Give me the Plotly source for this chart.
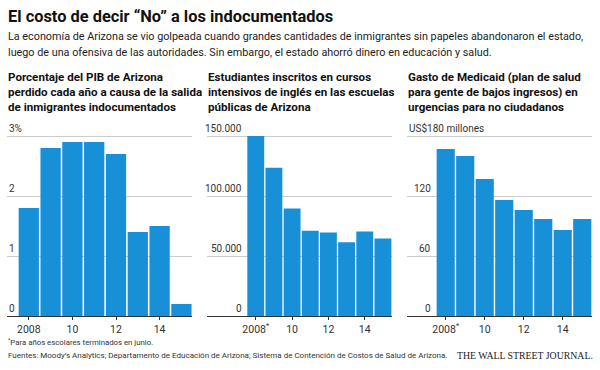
import plotly.graph_objects as go

years = [2008, 2009, 2010, 2011, 2012, 2013, 2014, 2015]
gdp_lost_pct = [1.8, 2.8, 2.9, 2.9, 2.7, 1.4, 1.5, 0.2]
english_students = [150000, 123500, 89500, 71000, 69500, 61500, 70500, 64500]
medicaid_spend = [167, 160, 137, 116, 106, 97, 86, 97]

x_tickvals = [2008, 2010, 2012, 2014]
x_ticktext_1 = ["2008", "10", "12", "14"]
x_ticktext_23 = ["2008<sup>*</sup>", "10", "12", "14"]

y_tickvals_1 = [0, 1, 2, 3]
y_ticktext_1 = ["0", "1", "2", "3%"]
y_tickvals_2 = [0, 50000, 100000, 150000]
y_ticktext_2 = ["0", "50.000", "100.000", "150.000"]
y_tickvals_3 = [0, 60, 120, 180]
y_ticktext_3 = ["0", "60", "120", "US$180 millones"]

title = "El costo de decir “No” a los indocumentados"
subtitle = [
    "La economía de Arizona se vio golpeada cuando grandes cantidades de inmigrantes sin papeles abandonaron el estado,",
    "luego de una ofensiva de las autoridades. Sin embargo, el estado ahorró dinero en educación y salud.",
]
headers = [
    ["Porcentaje del PIB de Arizona", "perdido cada año a causa de la salida", "de inmigrantes indocumentados"],
    ["Estudiantes inscritos en cursos", "intensivos de inglés en las escuelas", "públicas de Arizona"],
    ["Gasto de Medicaid (plan de salud", "para gente de bajos ingresos) en", "urgencias para no ciudadanos"],
]
footnote = "<sup>*</sup>Para años escolares terminados en junio."
sources = "Fuentes: Moody’s Analytics; Departamento de Educación de Arizona; Sistema de Contención de Costos de Salud de Arizona."
credit = "THE WALL STREET JOURNAL."

W, H = 600, 370
BLUE = "#1790d8"
SANS = "Roboto, Liberation Sans, sans-serif"

def px_x(p):
    return p / W

def px_y(p):
    return (H - p) / H

fig = go.Figure()

series = [gdp_lost_pct, english_students, medicaid_spend]
xranges = [[2007.0, 2015.5], [2005.3, 2015.5], [2006.0, 2015.5]]
yranges = [[0, 3.1], [0, 155000], [0, 186]]
left_px = [7, 206.7, 406.7]
yticks = [(y_tickvals_1, y_ticktext_1), (y_tickvals_2, y_ticktext_2), (y_tickvals_3, y_ticktext_3)]
xtexts = [x_ticktext_1, x_ticktext_23, x_ticktext_23]

for i in range(3):
    ax = "" if i == 0 else str(i + 1)
    fig.add_trace(go.Bar(x=years, y=series[i], marker=dict(color=BLUE, line=dict(width=0)),
                         xaxis="x" + ax, yaxis="y" + ax, hoverinfo="skip"))
    fig.layout["xaxis" + ax] = dict(
        domain=[px_x(left_px[i]), px_x(left_px[i] + 185.3)],
        range=xranges[i], anchor="y" + ax,
        showline=True, linecolor="#333333", linewidth=1.3,
        ticks="outside", ticklen=3, tickcolor="#333333", tickwidth=1,
        tickvals=x_tickvals, ticktext=xtexts[i],
        tickfont=dict(family=SANS, size=10.5, color="#333333"),
        showgrid=False, zeroline=False, fixedrange=True,
    )
    fig.layout["yaxis" + ax] = dict(
        domain=[px_y(316), px_y(130)],
        range=yranges[i], anchor="x" + ax,
        tickvals=yticks[i][0], showticklabels=False,
        showgrid=True, gridcolor="#cccccc", gridwidth=1,
        zeroline=False, showline=False, fixedrange=True,
    )
    # y tick labels sitting above the gridlines
    for v, t in zip(*yticks[i]):
        if i == 0 or (i == 2 and v == y_tickvals_3[-1]):
            x, xref, xa, xs = 0, "x%s domain" % ax, "left", 0
        else:
            x, xref, xa, xs = 2007.5, "x" + ax, "right", -3
        fig.add_annotation(x=x, xref=xref, y=v, yref="y" + ax, text=t, showarrow=False,
                           xanchor=xa, yanchor="bottom", xshift=xs, yshift=0,
                           font=dict(family=SANS, size=10, color="#333333"))
    for j, line in enumerate(headers[i]):
        fig.add_annotation(x=px_x(left_px[i] - 1), y=px_y(76.5 + 15.3 * j), xref="paper", yref="paper",
                           text="<b>" + line + "</b>", showarrow=False, xanchor="left", yanchor="middle",
                           font=dict(family=SANS, size=11.6, color="#111111"))

fig.add_annotation(x=px_x(6), y=px_y(16), xref="paper", yref="paper", text="<b>" + title + "</b>",
                   showarrow=False, xanchor="left", yanchor="middle",
                   font=dict(family=SANS, size=16.4, color="#111111"))
for j, line in enumerate(subtitle):
    fig.add_annotation(x=px_x(6), y=px_y(37 + 16 * j), xref="paper", yref="paper", text=line,
                       showarrow=False, xanchor="left", yanchor="middle",
                       font=dict(family=SANS, size=10.8, color="#222222"))
fig.add_annotation(x=px_x(6), y=px_y(342), xref="paper", yref="paper", text=footnote,
                   showarrow=False, xanchor="left", yanchor="middle",
                   font=dict(family=SANS, size=7.8, color="#333333"))
fig.add_annotation(x=px_x(6), y=px_y(355), xref="paper", yref="paper", text=sources,
                   showarrow=False, xanchor="left", yanchor="middle",
                   font=dict(family=SANS, size=8.0, color="#333333"))
fig.add_annotation(x=px_x(595), y=px_y(355), xref="paper", yref="paper", text=credit,
                   showarrow=False, xanchor="right", yanchor="middle",
                   font=dict(family="Liberation Serif, DejaVu Serif, serif", size=9.8, color="#222222"))

fig.update_layout(
    width=W, height=H, margin=dict(l=0, r=0, t=0, b=0),
    paper_bgcolor="white", plot_bgcolor="white",
    showlegend=False, bargap=0.07,
)

fig.write_html("out.html", config={"displayModeBar": False},
               post_script="document.body.style.margin='0';document.body.style.overflow='hidden';")
